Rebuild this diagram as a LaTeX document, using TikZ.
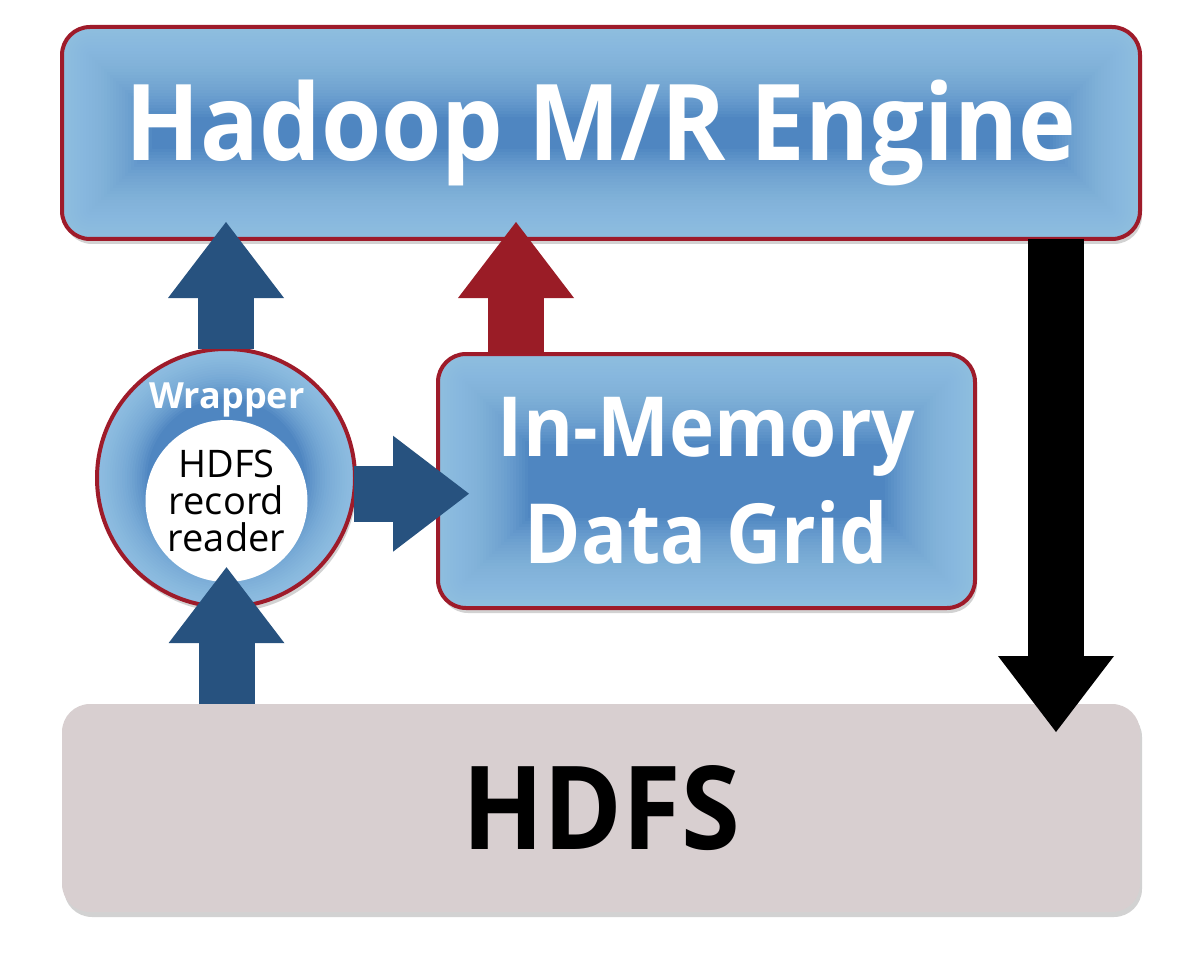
\documentclass[tikz,border=0pt]{standalone}
\usepackage{fontspec}
\setmainfont{Open Sans}
\newfontfamily\narrowfont{Open Sans}[FakeStretch=0.92]
\usetikzlibrary{positioning,calc,arrows.meta,backgrounds}

\definecolor{boxred}{HTML}{9E1B2A}
\definecolor{glowblue}{HTML}{A3D0EE}
\definecolor{midblue}{HTML}{4F86C1}
\definecolor{arrowblue}{HTML}{27527F}
\definecolor{arrowred}{HTML}{9A1C26}
\definecolor{hdfsgray}{HTML}{D8CFD0}

% shaded fill behind a rounded box: shadow, base colour, light rim
\newcommand{\glowbox}[2]{%
  \fill[gray!70, opacity=.5, rounded corners=#2] ($(#1.south west)+(2,5)$) rectangle ($(#1.north east)+(2,5)$);
  \begin{scope}
    \clip[rounded corners=#2] (#1.south west) rectangle (#1.north east);
    \fill[midblue] (#1.south west) rectangle (#1.north east);
    \foreach \w in {6,12,...,180}
      \draw[glowblue, opacity=.06, line width=\w pt, rounded corners=#2] (#1.south west) rectangle (#1.north east);
  \end{scope}}

\tikzset{
  bluebox/.style={draw=boxred, line width=4pt, rounded corners=28pt, outer sep=0pt, text=white, align=center},
  fatarrow/.style={line width=56pt, -{Triangle[length=76pt,width=116pt,line width=0pt]}},
}

\begin{document}
\begin{tikzpicture}[x=1pt, y=-1pt]
    \useasboundingbox (0,0) rectangle (1200,960);

    % boxes
    \node[bluebox, minimum width=1078pt, minimum height=212pt, font=\narrowfont\bfseries\fontsize{106}{110}\selectfont] (engine) at (601,133) {Hadoop M/R Engine};
    \node[bluebox, minimum width=537pt, minimum height=254pt, font=\narrowfont\bfseries\fontsize{83}{107}\selectfont] (imdg) at (706.5,481) {In-Memory\\Data Grid};
    \node[fill=hdfsgray, rounded corners=28pt, outer sep=0pt, minimum width=1078pt, minimum height=208pt, font=\narrowfont\bfseries\fontsize{116}{120}\selectfont] (hdfs) at (601,808) {HDFS};

    % wrapper circle
    \node[circle, draw=boxred, line width=4pt, minimum size=258pt, outer sep=0pt] (wrap) at (226,478) {};
    \node[circle, fill=white, minimum size=162pt, inner sep=0pt, align=center, font=\fontsize{38}{37}\selectfont] (reader) at (226.5,501) {HDFS\\record\\reader};
    \node[text=white, font=\bfseries\fontsize{36}{40}\selectfont] (wraplbl) at (227,400) {Wrapper};

    \begin{scope}[on background layer]
        \fill[gray!70, opacity=.5, rounded corners=28pt] ($(hdfs.south west)+(2,5)$) rectangle ($(hdfs.north east)+(2,5)$);
        \glowbox{engine}{28pt}
        \glowbox{imdg}{28pt}
        \fill[gray!70, opacity=.5] ($(wrap.center)+(2,5)$) circle[radius=129pt];
        \begin{scope}
            \clip (wrap.center) circle[radius=129pt];
            \fill[midblue] (wrap.center) circle[radius=129pt];
            \foreach \w in {5,10,...,100}
                \draw[glowblue, opacity=.08, line width=\w pt] (wrap.center) circle[radius=129pt];
        \end{scope}
    \end{scope}

    % arrows
    \coordinate (redfoot) at ($(imdg.north west)+(78,0)$);
    \coordinate (rightfoot) at (wrap.-7);
    \coordinate (downfoot) at ($(engine.south east)+(-84,0)$);
    \draw[fatarrow, arrowblue, shorten >=-17pt] (wrap.north) -- (wrap.north |- engine.south);
    \draw[fatarrow, arrowred, shorten >=-17pt] (redfoot) -- (redfoot |- engine.south);
    \draw[fatarrow, arrowblue, shorten >=-31pt] (rightfoot) -- (rightfoot -| imdg.west);
    \draw[fatarrow, arrowblue, shorten >=-15pt] (reader.south |- hdfs.north) -- (reader.south);
    \draw[fatarrow, black, shorten >=-28pt] (downfoot) -- (downfoot |- hdfs.north);
\end{tikzpicture}
\end{document}
